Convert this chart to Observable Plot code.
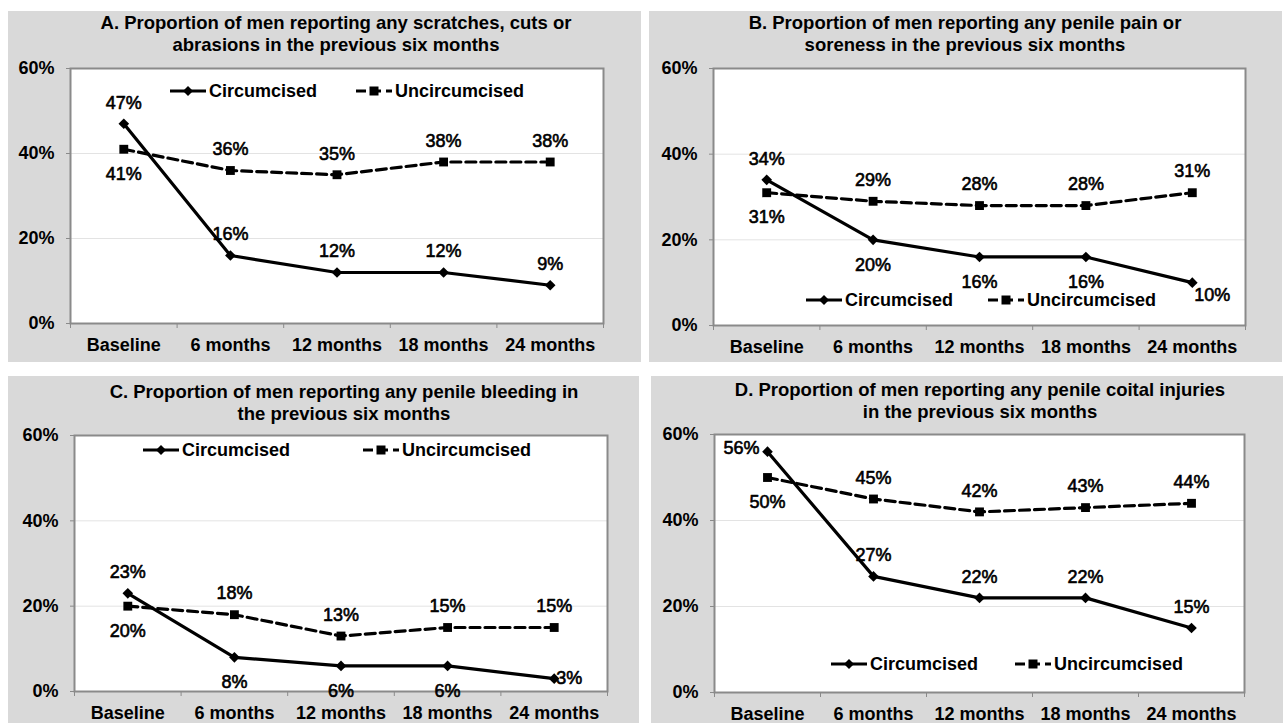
<!DOCTYPE html>
<html><head><meta charset="utf-8">
<script src="https://cdn.jsdelivr.net/npm/d3@7"></script>
<script src="https://cdn.jsdelivr.net/npm/@observablehq/plot@0.6"></script>
<style>
html,body{margin:0;padding:0;background:#fff;}
#root{position:relative;width:1283px;height:723px;overflow:hidden;font-family:"Liberation Sans",Arial,sans-serif;}
.panel{position:absolute;background:#d9d9d9;}
.title{position:absolute;font-weight:bold;font-size:18.5px;line-height:22px;text-align:center;color:#000;white-space:nowrap;}
.legitem{position:absolute;display:flex;align-items:center;font-weight:bold;font-size:18px;color:#000;white-space:nowrap;height:22px;}
.legitem svg{margin-right:3px;}
</style></head><body><div id="root"></div>
<script>
// ---------- data ----------
const categories = ["Baseline", "6 months", "12 months", "18 months", "24 months"];
const seriesNames = ["Circumcised", "Uncircumcised"];
const yTicks = [0, 0.2, 0.4, 0.6];

const titleA = ["A. Proportion of men reporting any scratches, cuts or", "abrasions in the previous six months"];
const titleB = ["B. Proportion of men reporting any penile pain or", "soreness in the previous six months"];
const titleC = ["C. Proportion of men reporting any penile bleeding in", "the previous six months"];
const titleD = ["D. Proportion of men reporting any penile coital injuries", "in the previous six months"];

const circA = [0.47, 0.16, 0.12, 0.12, 0.09];
const uncA  = [0.41, 0.36, 0.35, 0.38, 0.38];
const circB = [0.34, 0.20, 0.16, 0.16, 0.10];
const uncB  = [0.31, 0.29, 0.28, 0.28, 0.31];
const circC = [0.23, 0.08, 0.06, 0.06, 0.03];
const uncC  = [0.20, 0.18, 0.13, 0.15, 0.15];
const circD = [0.56, 0.27, 0.22, 0.22, 0.15];
const uncD  = [0.50, 0.45, 0.42, 0.43, 0.44];

// ---------- label placement (style) ----------
const placeA = {c: ["a","a","a","a","a"], u: ["b","a","a","a","a"]};
const placeB = {c: ["a","b","b","b","br"], u: ["b","a","a","a","a"]};
const placeC = {c: ["a","b","b","b","r"], u: ["b","a","a","a","a"]};
const placeD = {c: ["l","a","a","a","a"], u: ["b","a","a","a","a"]};

const placeStyle = {
  a:  {dx: 0,  dy: -21, textAnchor: "middle"},
  b:  {dx: 0,  dy: 25,  textAnchor: "middle"},
  r:  {dx: 2,  dy: 0,   textAnchor: "start"},
  br: {dx: 2,  dy: 13,  textAnchor: "start"},
  l:  {dx: -8, dy: -3,  textAnchor: "end"}
};

// ---------- layout ----------
const panels = [
  {title: titleA, circ: circA, unc: uncA, place: placeA,
   box: [8, 11, 633, 351], titleTop: 1, titleCx: 336, svgTop: 60, margins: [8, 38, 39, 62],
   legend: [[170, 91], [356, 91]]},
  {title: titleB, circ: circB, unc: uncB, place: placeB,
   box: [649, 11, 633, 351], titleTop: 1, titleCx: 965, svgTop: 60, margins: [8, 37, 37, 64],
   legend: [[806, 300], [988, 300]]},
  {title: titleC, circ: circC, unc: uncC, place: placeC,
   box: [8, 376, 631, 347], titleTop: 5, titleCx: 344, svgTop: 425, margins: [10, 32, 32, 66],
   legend: [[143, 450], [363, 450]]},
  {title: titleD, circ: circD, unc: uncD, place: placeD,
   box: [651, 376, 632, 347], titleTop: 3, titleCx: 980, svgTop: 425, margins: [9, 39, 31, 63],
   legend: [[831, 664], [1015, 664]]}
];

const root = document.getElementById("root");
const fmt = d3.format(".0%");

function legendSample(dashed) {
  const ns = "http://www.w3.org/2000/svg";
  const s = document.createElementNS(ns, "svg");
  s.setAttribute("width", 36); s.setAttribute("height", 12);
  const l = document.createElementNS(ns, "line");
  l.setAttribute("x1", 0); l.setAttribute("x2", 36); l.setAttribute("y1", 6); l.setAttribute("y2", 6);
  l.setAttribute("stroke", "#000"); l.setAttribute("stroke-width", 3);
  if (dashed) l.setAttribute("stroke-dasharray", "10,5");
  s.appendChild(l);
  const m = document.createElementNS(ns, "path");
  m.setAttribute("d", dashed ? "M13.5,1.5h9v9h-9z" : "M18,1l5,5l-5,5l-5,-5z");
  m.setAttribute("fill", "#000");
  s.appendChild(m);
  return s;
}

panels.forEach(p => {
  const [bx, by, bw, bh] = p.box;
  const panel = document.createElement("div");
  panel.className = "panel";
  Object.assign(panel.style, {left: bx + "px", top: by + "px", width: bw + "px", height: bh + "px"});
  root.appendChild(panel);

  const t = document.createElement("div");
  t.className = "title";
  t.innerHTML = p.title.map(s => s.replace(/&/g, "&amp;")).join("<br>");
  Object.assign(t.style, {left: (p.titleCx - 300) + "px", width: "600px", top: (by + p.titleTop) + "px"});
  root.appendChild(t);

  const rows = [];
  categories.forEach((c, i) => {
    rows.push({i: i + 0.5, cat: c, series: seriesNames[0], v: p.circ[i], place: p.place.c[i]});
    rows.push({i: i + 0.5, cat: c, series: seriesNames[1], v: p.unc[i], place: p.place.u[i]});
  });
  const circRows = rows.filter(r => r.series === seriesNames[0]);
  const uncRows = rows.filter(r => r.series === seriesNames[1]);

  const [mt, mr, mb, ml] = p.margins;
  const height = by + bh - p.svgTop;

  const labelMarks = Object.entries(placeStyle).map(([k, st]) =>
    Plot.text(rows.filter(r => r.place === k), {
      x: "i", y: "v", text: d => fmt(d.v),
      dx: st.dx, dy: st.dy, textAnchor: st.textAnchor,
      fill: "#000", stroke: "#000", strokeWidth: 0.6, fontSize: 18, fontWeight: "normal"
    })
  );

  const svg = Plot.plot({
    width: bw, height,
    marginTop: mt, marginRight: mr, marginBottom: mb, marginLeft: ml,
    style: {background: "transparent", overflow: "visible", fontFamily: '"Liberation Sans", Arial, sans-serif', fontSize: "18px", color: "#000"},
    x: {domain: [0, categories.length], axis: null},
    y: {domain: [0, 0.6], axis: null},
    marks: [
      Plot.frame({fill: "#fff", stroke: null}),
      Plot.ruleY(yTicks.slice(1, -1), {stroke: "#e3e3e3", strokeWidth: 1}),
      Plot.axisY({ticks: yTicks, tickFormat: fmt, tickSize: 4, tickPadding: 12, stroke: "#8a8a8a", fill: "#000", fontWeight: "bold", fontSize: 18, label: null}),
      Plot.axisX({ticks: d3.range(categories.length + 1), tickFormat: () => "", tickSize: 5, stroke: "#8a8a8a", label: null}),
      Plot.axisX({ticks: categories.map((c, i) => i + 0.5), tickFormat: d => categories[Math.round(d - 0.5)], tickSize: 0, tickPadding: 15, fill: "#000", fontWeight: "bold", fontSize: 18, label: null}),
      Plot.frame({stroke: "#8a8a8a", strokeWidth: 2}),
      Plot.line(uncRows, {x: "i", y: "v", stroke: "#000", strokeWidth: 3.2, strokeDasharray: "10,5"}),
      Plot.line(circRows, {x: "i", y: "v", stroke: "#000", strokeWidth: 3.2}),
      Plot.dot(uncRows, {x: "i", y: "v", symbol: "square", r: 5, fill: "#000", stroke: null}),
      Plot.dot(circRows, {x: "i", y: "v", symbol: "diamond2", r: 4.8, fill: "#000", stroke: null}),
      ...labelMarks
    ]
  });
  Object.assign(svg.style, {position: "absolute", left: bx + "px", top: p.svgTop + "px"});
  root.appendChild(svg);

  seriesNames.forEach((name, k) => {
    const item = document.createElement("div");
    item.className = "legitem";
    const [lx, ly] = p.legend[k];
    Object.assign(item.style, {left: lx + "px", top: (ly - 11) + "px"});
    item.appendChild(legendSample(k === 1));
    const span = document.createElement("span");
    span.textContent = name;
    item.appendChild(span);
    root.appendChild(item);
  });
});
</script></body></html>
